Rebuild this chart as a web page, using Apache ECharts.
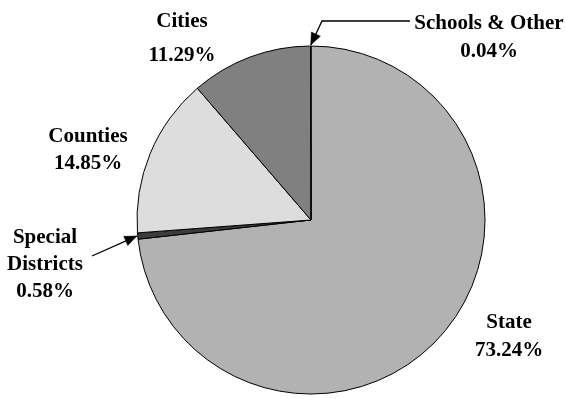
<!DOCTYPE html>
<html>
<head>
<meta charset="utf-8">
<script src="https://cdn.jsdelivr.net/npm/echarts@6/dist/echarts.min.js"></script>
<style>
  html, body { margin: 0; padding: 0; background: #ffffff; }
  #chart { width: 565px; height: 399px; }
</style>
</head>
<body>
<div id="chart"></div>
<script>
// ---- data ----
const categories = ['State', 'Special Districts', 'Counties', 'Cities', 'Schools & Other'];
const shares = [73.24, 0.58, 14.85, 11.29, 0.04];
const sliceColors = ['#b2b2b2', '#3c3c3c', '#dddddd', '#808080', '#eeeeee'];

// ---- label placement (layout only) ----
const labelCenters = [[509, 337], [45, 265], [88, 150], [182, 39], [489, 38]];
const labelLineHeights = [28, 27, 27, 34, 28];

const chart = echarts.init(document.getElementById('chart'), null, { renderer: 'canvas' });

const option = {
  animation: false,
  backgroundColor: '#ffffff',
  series: [{
    type: 'pie',
    center: [311, 220],
    radius: 174,
    startAngle: 90,
    clockwise: true,
    avoidLabelOverlap: false,
    silent: true,
    itemStyle: { borderColor: '#000000', borderWidth: 1 },
    label: {
      show: true,
      position: 'outside',
      fontFamily: '"Liberation Serif", "Times New Roman", serif',
      fontWeight: 'bold',
      fontSize: 21,
      color: '#000000',
      align: 'center',
      formatter: function (p) {
        const name = p.name === 'Special Districts' ? 'Special\nDistricts' : p.name;
        return name + '\n' + shares[p.dataIndex].toFixed(2) + '%';
      }
    },
    labelLine: { show: false },
    labelLayout: function (params) {
      const c = labelCenters[params.dataIndex];
      return { x: c[0], y: c[1], align: 'center', verticalAlign: 'middle' };
    },
    data: categories.map(function (name, i) {
      return {
        name: name,
        value: shares[i],
        itemStyle: { color: sliceColors[i] },
        label: { lineHeight: labelLineHeights[i] }
      };
    })
  }]
};

chart.setOption(option);

// ---- pointer arrows, attached to the slices' computed edge points ----
const pieData = chart.getModel().getSeriesByIndex(0).getData();
function edgePoint(i) {
  const l = pieData.getItemLayout(i);
  const a = (l.startAngle + l.endAngle) / 2;
  return [l.cx + l.r * Math.cos(a), l.cy + l.r * Math.sin(a)];
}
function arrowHead(tip, from) {
  let dx = tip[0] - from[0], dy = tip[1] - from[1];
  const len = Math.sqrt(dx * dx + dy * dy);
  dx /= len; dy /= len;
  const L = 12, W = 5;
  const bx = tip[0] - dx * L, by = tip[1] - dy * L;
  return [tip, [bx - dy * W, by + dx * W], [bx + dy * W, by - dx * W]];
}
const graphics = [];
function addArrow(points) {
  const tip = points[points.length - 1];
  const from = points[points.length - 2];
  graphics.push({
    type: 'polyline', silent: true,
    shape: { points: points },
    style: { stroke: '#000000', lineWidth: 1.3, fill: null }
  });
  graphics.push({
    type: 'polygon', silent: true,
    shape: { points: arrowHead(tip, from) },
    style: { fill: '#000000', stroke: '#000000', lineWidth: 0.5 }
  });
}
const schoolsIdx = categories.indexOf('Schools & Other');
const specialIdx = categories.indexOf('Special Districts');
const sTip = edgePoint(schoolsIdx);
addArrow([[410, 21], [322, 21], [sTip[0], sTip[1] - 1]]);
const dTip = edgePoint(specialIdx);
addArrow([[92, 256], [dTip[0] - 1, dTip[1]]]);
chart.setOption({ graphic: graphics });
</script>
</body>
</html>
